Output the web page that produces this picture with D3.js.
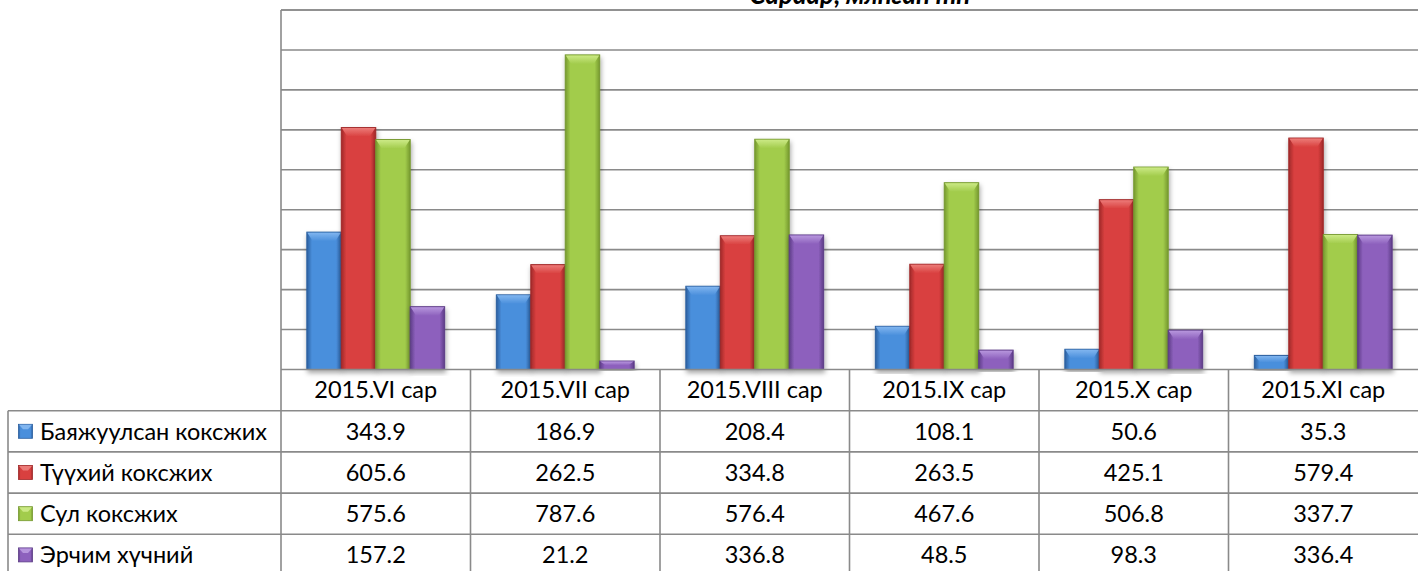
<!DOCTYPE html>
<html>
<head>
<meta charset="utf-8">
<script src="https://cdn.jsdelivr.net/npm/d3@7"></script>
<style>
  body { margin: 0; background: #fff; }
  svg { display: block; font-family: Lato, "Open Sans", sans-serif; }
</style>
</head>
<body>
<svg id="chart" width="1418" height="571"></svg>
<script>
// chart data
const title = "Сараар, мянган тн";
const categories = ["2015.VI сар", "2015.VII сар", "2015.VIII сар", "2015.IX сар", "2015.X сар", "2015.XI сар"];
const seriesNames = ["Баяжуулсан коксжих", "Түүхий коксжих", "Сул коксжих", "Эрчим хүчний"];
const bayajuulsan = [343.9, 186.9, 208.4, 108.1, 50.6, 35.3];
const tuukhii = [605.6, 262.5, 334.8, 263.5, 425.1, 579.4];
const sul = [575.6, 787.6, 576.4, 467.6, 506.8, 337.7];
const erchim = [157.2, 21.2, 336.8, 48.5, 98.3, 336.4];
const yTicks = [0, 100, 200, 300, 400, 500, 600, 700, 800, 900];

const seriesValues = [bayajuulsan, tuukhii, sul, erchim];

// colours: [light centre, dark edge, top bevel]
const colors = [
    ["#4a8fdc", "#2b5f9f", "#80b5ef"],
    ["#d9403f", "#a02829", "#ec7b78"],
    ["#a2cc4c", "#76992f", "#cbe985"],
    ["#8d61bd", "#5d3c87", "#b796dd"]
];

const svg = d3.select("#chart");
const plot = { left: 281, right: 1418, top: 10, bottom: 369.5 };
const rowH = 41.2;
const tableLeft = 8;
const gridColor = "#8a8a8a";

const defs = svg.append("defs");
defs.append("filter").attr("id", "shadow")
    .attr("x", "-20%").attr("y", "-5%").attr("width", "140%").attr("height", "115%")
    .append("feDropShadow")
    .attr("dx", 1).attr("dy", 3).attr("stdDeviation", 2.5)
    .attr("flood-color", "#000").attr("flood-opacity", 0.35);

colors.forEach((c, i) => {
    const g = defs.append("linearGradient").attr("id", "grad" + i)
        .attr("x1", "0").attr("x2", "1").attr("y1", "0").attr("y2", "0");
    g.append("stop").attr("offset", "0").attr("stop-color", c[1]);
    g.append("stop").attr("offset", "0.15").attr("stop-color", c[0]);
    g.append("stop").attr("offset", "0.85").attr("stop-color", c[0]);
    g.append("stop").attr("offset", "1").attr("stop-color", c[1]);
    const t = defs.append("linearGradient").attr("id", "top" + i)
        .attr("x1", "0").attr("x2", "0").attr("y1", "0").attr("y2", "1");
    t.append("stop").attr("offset", "0").attr("stop-color", c[2]);
    t.append("stop").attr("offset", "1").attr("stop-color", c[0]);
});

const x = d3.scaleBand()
    .domain(categories)
    .range([plot.left, plot.right]);

// Excel-like gap width of 150%
const bw = x.bandwidth() / 5.5;
const xs = d3.scaleBand()
    .domain(seriesNames)
    .range([bw * 0.75, x.bandwidth() - bw * 0.75]);

const y = d3.scaleLinear()
    .domain([0, 900])
    .range([plot.bottom, plot.top]);

// title, cut off at the top edge as in the source
svg.append("text")
    .attr("x", 860)
    .attr("y", 4)
    .attr("text-anchor", "middle")
    .attr("font-size", 26)
    .attr("font-weight", "bold")
    .attr("font-style", "italic")
    .text(title);

// gridlines
svg.append("g")
    .selectAll("line")
    .data(yTicks.slice(1))
    .enter().append("line")
    .attr("x1", plot.left).attr("x2", plot.right)
    .attr("y1", d => y(d)).attr("y2", d => y(d))
    .attr("stroke", gridColor).attr("stroke-width", 1.6);

// bars
const groups = svg.append("g").selectAll("g")
    .data(categories)
    .enter().append("g")
    .attr("transform", d => `translate(${x(d)},0)`);

groups.each(function(cat, ci) {
    const g = d3.select(this);
    seriesNames.forEach((name, si) => {
        const v = seriesValues[si][ci];
        const bx = xs(name), by = y(v), bh = y(0) - y(v), w = xs.bandwidth();
        const bar = g.append("g").attr("filter", "url(#shadow)");
        bar.append("rect")
            .attr("x", bx).attr("y", by)
            .attr("width", w).attr("height", bh)
            .attr("fill", `url(#grad${si})`)
            .attr("stroke", colors[si][1]).attr("stroke-width", 1);
        // top bevel
        const bev = Math.min(9, bh / 2);
        bar.append("path")
            .attr("d", `M${bx + 0.5},${by + 0.5} L${bx + w - 0.5},${by + 0.5} L${bx + w - 6},${by + bev} L${bx + 6},${by + bev} Z`)
            .attr("fill", `url(#top${si})`);
    });
});

// table
const table = svg.append("g");
const fontSize = 23.5;

// header row
table.selectAll(".hdr")
    .data(categories)
    .enter().append("text")
    .attr("x", d => x(d) + x.bandwidth() / 2)
    .attr("y", plot.bottom + rowH / 2)
    .attr("dy", "0.35em")
    .attr("text-anchor", "middle")
    .attr("font-size", fontSize)
    .text(d => d);

seriesNames.forEach((name, si) => {
    const ry = plot.bottom + rowH * (si + 1);
    const row = table.append("g");
    // legend key
    row.append("rect")
        .attr("x", 18.5).attr("y", ry + rowH / 2 - 7)
        .attr("width", 14).attr("height", 14)
        .attr("fill", `url(#grad${si})`)
        .attr("stroke", colors[si][1]).attr("stroke-width", 0.8);
    row.append("path")
        .attr("d", `M19,${ry + rowH / 2 - 6.5} L32,${ry + rowH / 2 - 6.5} L28,${ry + rowH / 2 - 2} L23,${ry + rowH / 2 - 2} Z`)
        .attr("fill", colors[si][2]);
    row.append("text")
        .attr("x", 40)
        .attr("y", ry + rowH / 2)
        .attr("dy", "0.35em")
        .attr("font-size", fontSize)
        .text(name);
    row.selectAll(".val")
        .data(categories)
        .enter().append("text")
        .attr("x", d => x(d) + x.bandwidth() / 2)
        .attr("y", ry + rowH / 2)
        .attr("dy", "0.35em")
        .attr("text-anchor", "middle")
        .attr("font-size", fontSize)
        .text((d, ci) => seriesValues[si][ci].toFixed(1));
});

// table lines
const lines = svg.append("g").attr("stroke", gridColor).attr("stroke-width", 1.6);
// top border of plot
lines.append("line")
    .attr("x1", plot.left).attr("x2", plot.right)
    .attr("y1", plot.top).attr("y2", plot.top);
// horizontal lines
[0, 1, 2, 3, 4].forEach(i => {
    lines.append("line")
        .attr("x1", i === 0 ? plot.left : tableLeft).attr("x2", plot.right)
        .attr("y1", plot.bottom + rowH * i).attr("y2", plot.bottom + rowH * i);
});
// plot left edge down through table
lines.append("line")
    .attr("x1", plot.left).attr("x2", plot.left)
    .attr("y1", plot.top).attr("y2", 571);
// label column left edge
lines.append("line")
    .attr("x1", tableLeft).attr("x2", tableLeft)
    .attr("y1", plot.bottom + rowH).attr("y2", 571);
// column dividers
lines.selectAll(".col")
    .data(categories.slice(1))
    .enter().append("line")
    .attr("x1", d => x(d)).attr("x2", d => x(d))
    .attr("y1", plot.bottom).attr("y2", 571);
</script>
</body>
</html>
